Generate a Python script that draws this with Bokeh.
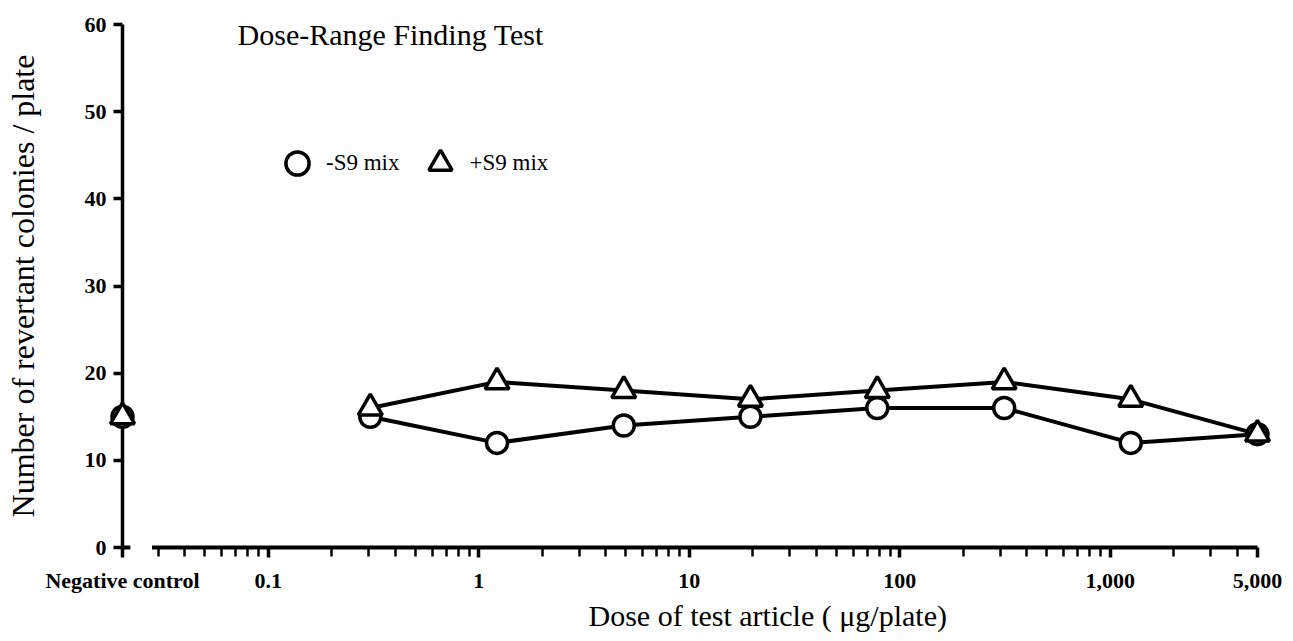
from bokeh.plotting import figure
from bokeh.models import FixedTicker, Label, Legend, LegendItem, Range1d, Title
from bokeh.embed import file_html
from bokeh.resources import INLINE

# ---- data ----
doses = [0.305, 1.22, 4.88, 19.5, 78.1, 313, 1250, 5000]
minus_s9 = [15, 12, 14, 15, 16, 16, 12, 13]
plus_s9 = [16, 19, 18, 17, 18, 19, 17, 13]
nc_minus_s9 = [15]
nc_plus_s9 = [15]
x_tick_values = [0.1, 1, 10, 100, 1000, 5000]
x_tick_labels = ["0.1", "1", "10", "100", "1,000", "5,000"]
nc_label = "Negative control"
y_ticks = [0, 10, 20, 30, 40, 50, 60]
series_labels = ["-S9 mix", "+S9 mix"]
title_text = "Dose-Range Finding Test"
x_label = "Dose of test article ( μg/plate)"
y_label = "Number of revertant colonies / plate"

# ---- layout constants ----
X_START = 0.02028
X_END = 5000
NC_X = X_START
AXIS_START = 0.028
SERIF = "Liberation Serif"

p = figure(width=1285, height=633, x_axis_type="log",
           x_range=Range1d(X_START, X_END), y_range=Range1d(0, 60),
           output_backend="svg", toolbar_location=None,
           min_border_left=122, min_border_right=28,
           min_border_top=24, min_border_bottom=84)
p.outline_line_color = None
p.grid.visible = False
p.background_fill_color = "white"

# x axis
minor = []
for e in range(-2, 4):
    for m in range(2, 10):
        v = m * 10 ** e
        if AXIS_START < v < X_END and v not in x_tick_values:
            minor.append(v)
p.xaxis.ticker = FixedTicker(ticks=[NC_X] + x_tick_values, minor_ticks=minor)
overrides = {NC_X: nc_label}
for v, t in zip(x_tick_values, x_tick_labels):
    overrides[v] = t
p.xaxis.major_label_overrides = overrides
p.xaxis.axis_line_color = None
p.xaxis.major_tick_out = 10
p.xaxis.major_tick_in = 0
p.xaxis.minor_tick_out = 9
p.xaxis.minor_tick_in = 0
p.xaxis.major_tick_line_width = 3.5
p.xaxis.minor_tick_line_width = 2.5
p.xaxis.major_label_standoff = 10
p.xaxis.major_label_text_font = SERIF
p.xaxis.major_label_text_font_style = "bold"
p.xaxis.major_label_text_font_size = "22px"
p.xaxis.major_label_text_color = "black"

# y axis
p.yaxis.ticker = FixedTicker(ticks=y_ticks, minor_ticks=[])
p.yaxis.axis_line_width = 3.5
p.yaxis.major_tick_out = 9
p.yaxis.major_tick_in = 0
p.yaxis.major_tick_line_width = 3.5
p.yaxis.major_label_standoff = 7
p.yaxis.major_label_text_font = SERIF
p.yaxis.major_label_text_font_style = "bold"
p.yaxis.major_label_text_font_size = "22px"
p.yaxis.major_label_text_color = "black"
p.yaxis.axis_label = y_label
p.yaxis.axis_label_text_font = SERIF
p.yaxis.axis_label_text_font_style = "normal"
p.yaxis.axis_label_text_font_size = "32px"
p.yaxis.axis_label_text_color = "black"
p.yaxis.axis_label_standoff = 41

# broken x axis line
p.segment(x0=[AXIS_START], y0=[0], x1=[X_END], y1=[0], line_width=4,
          line_color="black", level="overlay")
p.segment(x0=[NC_X], y0=[0], x1=[NC_X * 1.09], y1=[0], line_width=4,
          line_color="black", level="overlay")

# series
p.line(doses, minus_s9, line_width=4, line_color="black", level="overlay")
p.line(doses, plus_s9, line_width=4, line_color="black", level="overlay")
c_r = p.scatter(doses, minus_s9, marker="circle", size=21, fill_color="white",
                line_color="black", line_width=3.5, level="overlay")
p.scatter([NC_X], nc_minus_s9, marker="circle", size=21, fill_color="white",
          line_color="black", line_width=3.5, level="overlay")
t_r = p.scatter(doses, plus_s9, marker="triangle", size=24, fill_color="white",
                line_color="black", line_width=3.5, level="overlay")
p.scatter([NC_X], nc_plus_s9, marker="triangle", size=24, fill_color="white",
          line_color="black", line_width=3.5, level="overlay")

legend = Legend(items=[LegendItem(label=series_labels[0], renderers=[c_r]),
                       LegendItem(label=series_labels[1], renderers=[t_r])],
                orientation="horizontal", location=(146, 355),
                glyph_width=58, glyph_height=58, label_standoff=0, spacing=12,
                padding=0, margin=0, border_line_color=None, background_fill_alpha=0,
                label_text_font=SERIF, label_text_font_size="23px",
                label_text_color="black")
p.add_layout(legend)

p.add_layout(Label(x=0.0714, y=58.8, text=title_text,
                   text_baseline="middle", text_align="left",
                   text_font=SERIF, text_font_size="30px", text_color="black"))

p.add_layout(Title(text=x_label, align="left", offset=466, standoff=3,
                   text_font=SERIF, text_font_size="30px",
                   text_font_style="normal", text_color="black"), "below")

open("out.html", "w").write(file_html(p, INLINE))
